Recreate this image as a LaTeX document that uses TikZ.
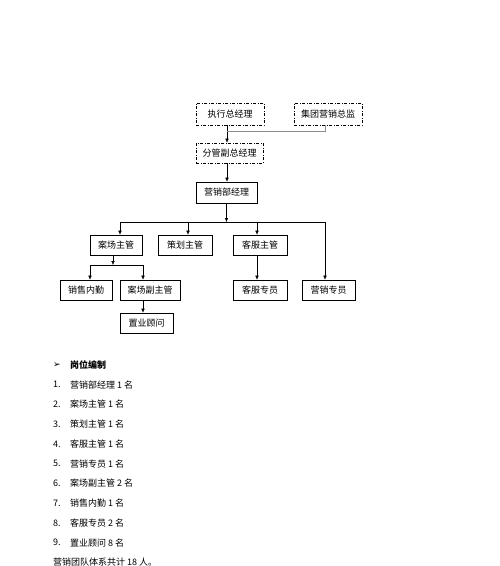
\documentclass[tikz,border=0pt]{standalone}
\usepackage{fontspec}
\setmainfont{Noto Sans CJK SC}
\newfontfamily\symfont{DejaVu Sans}
\usetikzlibrary{arrows.meta}

\tikzset{
  box/.style={draw, line width=0.6pt, minimum height=20pt, inner sep=1pt, font=\fontsize{9}{11}\selectfont},
  dbox/.style={box, dash pattern=on 3pt off 1.5pt on 1pt off 1.5pt},
  arr/.style={-{Latex[length=4pt,width=3.5pt]}},
  item/.style={anchor=west, inner sep=0pt, font=\fontsize{9}{11}\selectfont}
}

\begin{document}
\begin{tikzpicture}[x=1pt, y=-1pt]
\useasboundingbox[fill=white] (0,0) rectangle (500,566);
% top of the chart
\node[dbox, minimum width=68pt, minimum height=22pt] (zxzj) at (230,114) {执行总经理};
\node[dbox, minimum width=68pt, minimum height=22pt] (jtzj) at (328,114) {集团营销总监};
\node[dbox, minimum width=67pt] (fgfz) at (229.5,153) {分管副总经理};
\node[box, minimum width=61pt, minimum height=21pt] (yxjl) at (226.5,192.5) {营销部经理};
\coordinate (t0) at (227,131);
\draw[arr] (t0 |- zxzj.south) -- (t0 |- fgfz.north);
\draw[black!45] ([xshift=-3pt]jtzj.south) |- (t0);
\draw[arr] (t0 |- fgfz.south) -- (t0 |- yxjl.north);
% second level
\node[box, minimum width=52pt] (aczg) at (116,245) {案场主管};
\node[box, minimum width=54pt] (chzg) at (185,245) {策划主管};
\node[box, minimum width=54pt] (kfzg) at (260,245) {客服主管};
\node[box, minimum width=53pt] (yxzy) at (328.5,290) {营销专员};
\coordinate (d1) at (120,222);
\coordinate (d2) at (188,222);
\coordinate (d3) at (257,222);
\coordinate (d4) at (325,222);
\draw[arr] (yxjl.south) -- (yxjl.south |- d1);
\draw (d1) -- (d4);
\draw[arr] (d1) -- (d1 |- aczg.north);
\draw[arr] (d2) -- (d2 |- chzg.north);
\draw[arr] (d3) -- (d3 |- kfzg.north);
\draw[arr] (d4) -- (d4 |- yxzy.north);
% third level
\node[box, minimum width=52pt] (xsnq) at (86,290) {销售内勤};
\node[box, minimum width=60pt] (acfz) at (150,290) {案场副主管};
\node[box, minimum width=54pt] (kfzy) at (260,290) {客服专员};
\node[box, minimum width=53pt] (zygw) at (146.5,323) {置业顾问};
\coordinate (s0) at (113,265);
\coordinate (s1) at (90,265);
\coordinate (s2) at (143,265);
\draw[arr] (s0 |- aczg.south) -- (s0);
\draw (s1) -- (s2);
\draw[arr] (s1) -- (s1 |- xsnq.north);
\draw[arr] (s2) -- (s2 |- acfz.north);
\draw[arr] (s2 |- acfz.south) -- (s2 |- zygw.north);
\draw[arr] (d3 |- kfzg.south) -- (d3 |- kfzy.north);
% list of posts
\node[item] (bullet) at (53,365) {\symfont\fontsize{9}{11}\selectfont ➢};
\node[item, font=\fontsize{9}{11}\selectfont\bfseries] (head) at (70,365) {岗位编制};
\foreach \i/\t in {1/营销部经理 1 名, 2/案场主管 1 名, 3/策划主管 1 名, 4/客服主管 1 名,
                   5/营销专员 1 名, 6/案场副主管 2 名, 7/销售内勤 1 名, 8/客服专员 2 名, 9/置业顾问 8 名} {
  \node[item] (num\i) at (53,365+19.75*\i) {\i.};
  \node[item] (post\i) at (70,365+19.75*\i) {\t};
}
\node[item] (total) at (53,562) {营销团队体系共计 18 人。};
\end{tikzpicture}
\end{document}
